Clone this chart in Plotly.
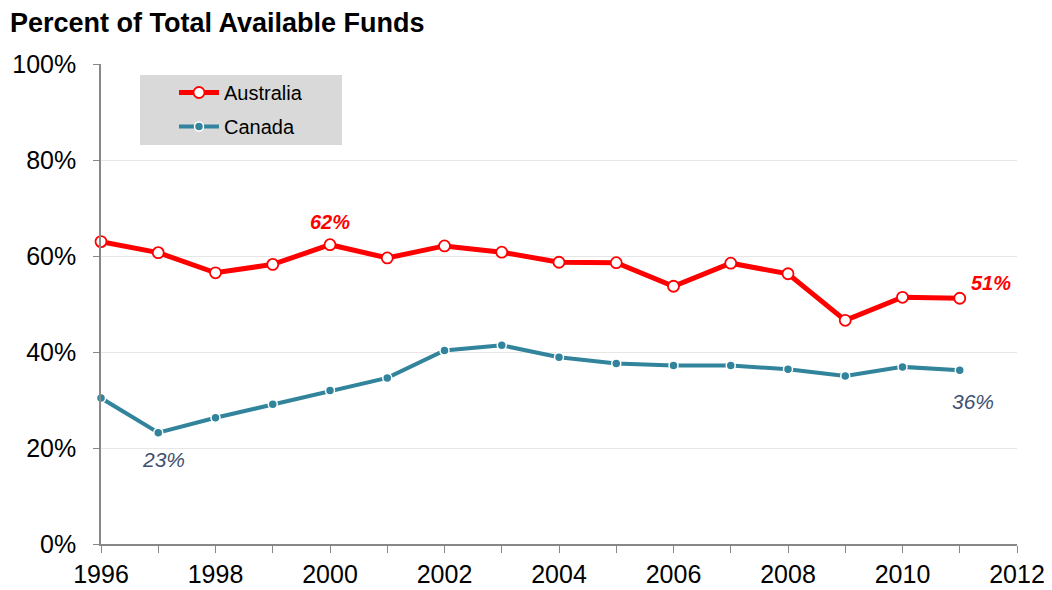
import plotly.graph_objects as go

years = list(range(1996, 2012))
australia = [63.0, 60.7, 56.5, 58.25, 62.35, 59.6, 62.1, 60.8, 58.7, 58.6, 53.7, 58.5, 56.3, 46.6, 51.4, 51.2]
canada = [30.4, 23.2, 26.3, 29.1, 32.0, 34.6, 40.3, 41.4, 38.9, 37.6, 37.2, 37.2, 36.4, 35.0, 36.9, 36.2]

x_tickvals = list(range(1996, 2013))
x_ticktext = [str(y) if y % 2 == 0 else "" for y in x_tickvals]
y_tickvals = [0, 20, 40, 60, 80, 100]
y_ticktext = ["0%", "20%", "40%", "60%", "80%", "100%"]

RED = "#FF0000"
TEAL = "#31849B"
SLATE = "#3F5070"
FONT = "Liberation Sans, Arial, sans-serif"

# page body has an 8px margin; compensate so the plot lands where the reference has it
OFF = 8
W, H = 1052 - OFF, 590 - OFF
L, T = 101 - OFF, 64 - OFF
PLOT_W, PLOT_H = 916, 479.6
R = W - L - PLOT_W
B = H - T - PLOT_H

fig = go.Figure()
fig.add_trace(go.Scatter(
    x=years, y=australia, name="Australia", mode="lines+markers", legendgroup="a",
    line=dict(color=RED, width=5),
    marker=dict(size=11, color="white", line=dict(color=RED, width=1.8)),
    cliponaxis=False,
))
fig.add_trace(go.Scatter(
    x=years, y=canada, name="Canada", mode="lines+markers", legendgroup="c",
    line=dict(color=TEAL, width=4),
    marker=dict(size=9, color=TEAL, line=dict(color="white", width=1.5)),
    cliponaxis=False,
))

i2000 = years.index(2000)
fig.add_annotation(x=2000, y=australia[i2000], text="<b><i>62%</i></b>", showarrow=False,
                   yshift=23, font=dict(color=RED, size=20, family=FONT))
fig.add_annotation(x=2011, y=australia[-1], text="<b><i>51%</i></b>", showarrow=False,
                   xshift=31, yshift=15, font=dict(color=RED, size=20, family=FONT))
i1997 = years.index(1997)
fig.add_annotation(x=1997, y=canada[i1997], text="<i>23%</i>", showarrow=False,
                   xshift=5, yshift=-27, font=dict(color=SLATE, size=21, family=FONT))
fig.add_annotation(x=2011, y=canada[-1], text="<i>36%</i>", showarrow=False,
                   xshift=13, yshift=-31, font=dict(color=SLATE, size=21, family=FONT))

# legend background box
fig.add_shape(type="rect", xref="paper", yref="paper",
              x0=(140 - 101) / PLOT_W, x1=(342 - 101) / PLOT_W,
              y0=(543.6 - 145) / PLOT_H, y1=(543.6 - 75) / PLOT_H,
              fillcolor="#D9D9D9", line=dict(width=0), layer="below")

fig.update_layout(
    width=W, height=H,
    margin=dict(l=L, r=R, t=T, b=B, autoexpand=False),
    paper_bgcolor="white", plot_bgcolor="white",
    font=dict(family=FONT, color="black"),
    title=dict(text="<b>Percent of Total Available Funds</b>", x=(10 - OFF) / W, xref="container",
               xanchor="left", y=1 - (23 - OFF) / H, yref="container", yanchor="middle",
               pad=dict(l=0, r=0, t=0, b=0),
               font=dict(size=27, color="black", family=FONT)),
    showlegend=True,
    legend=dict(x=(174 - 101) / PLOT_W, y=(543.6 - 73) / PLOT_H, xanchor="left", yanchor="top",
                bgcolor="rgba(0,0,0,0)", font=dict(size=20, family=FONT, color="black"),
                itemwidth=40, tracegroupgap=5, traceorder="grouped"),
    xaxis=dict(range=[1996, 2012], tickvals=x_tickvals, ticktext=x_ticktext, automargin=False,
               showgrid=False, zeroline=False, showline=True, linecolor="#888888", linewidth=1.5,
               ticks="outside", ticklen=7, tickcolor="#888888", tickwidth=1.2,
               tickfont=dict(size=25, family=FONT, color="black")),
    yaxis=dict(range=[0, 100], tickvals=y_tickvals, ticktext=y_ticktext, automargin=False,
               showgrid=True, gridcolor="#E6E6E6", gridwidth=1, zeroline=False,
               showline=True, linecolor="#888888", linewidth=1.5,
               ticks="outside", ticklen=6, tickcolor="#888888", tickwidth=1.2,
               ticklabelstandoff=12,
               tickfont=dict(size=25, family=FONT, color="black")),
)

fig.write_html("out.html")
